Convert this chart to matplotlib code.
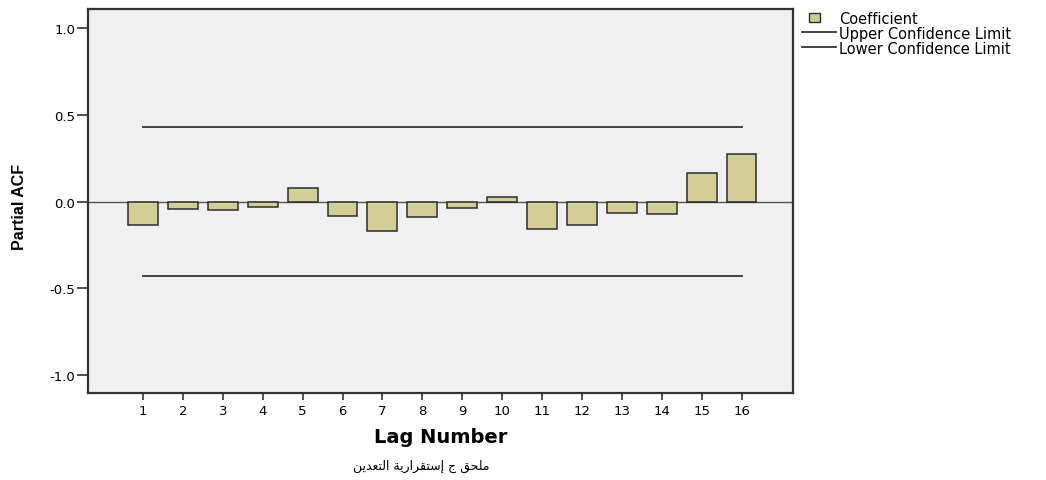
import numpy as np
import matplotlib
matplotlib.use("Agg")
import matplotlib.pyplot as plt
from matplotlib.patches import Patch, Rectangle
from matplotlib.lines import Line2D
from matplotlib.legend_handler import HandlerPatch

# PACF values
lags = [1, 2, 3, 4, 5, 6, 7, 8, 9, 10, 11, 12, 13, 14, 15, 16]
coef = [-0.133, -0.046, -0.048, -0.029, 0.081, -0.081, -0.168, -0.092,
        -0.037, 0.025, -0.156, -0.137, -0.064, -0.072, 0.164, 0.273]
upper_conf = [0.428] * 16
lower_conf = [-0.428] * 16
yticks = [-1.0, -0.5, 0.0, 0.5, 1.0]
legend_labels = ["Coefficient", "Upper Confidence Limit", "Lower Confidence Limit"]

# caption (Arabic, pre-shaped presentation forms, reversed for LTR drawing)
caption_logical = ("\ufee3\ufee0\ufea4\ufed6 \ufe9d "
                   "\ufe87\ufeb3\ufe98\ufed8\ufeae\ufe8d\ufead\ufef3\ufe94 "
                   "\ufe8d\ufedf\ufe98\ufecc\ufeaa\ufef3\ufee6")
caption = caption_logical[::-1]

plt.rcParams['font.family'] = ['DejaVu Sans']

fig = plt.figure(figsize=(10.46, 4.81), dpi=100)
ax = fig.add_axes([0.0841, 0.181, 0.674, 0.798])
ax.set_facecolor("#f0f0f0")

bar_col = "#d3ce97"
edge = "#2b2b2b"
ax.bar(lags, coef, width=0.75, color=bar_col, edgecolor=edge, linewidth=1.1, zorder=3)
ax.axhline(0, color="#555555", linewidth=1.0, zorder=2)
ax.plot(lags, upper_conf, color="#333333", linewidth=1.3, zorder=4)
ax.plot(lags, lower_conf, color="#333333", linewidth=1.3, zorder=4)

ax.set_xlim(-0.38, 17.29)
ax.set_ylim(-1.106, 1.112)
ax.set_xticks(lags)
ax.set_xticklabels([str(l) for l in lags])
ax.set_yticks(yticks)
ax.set_yticklabels(["%.1f" % v for v in yticks])
ax.tick_params(direction="out", width=1.2, color="#333333", labelsize=9.5)
ax.tick_params(axis="y", length=8, pad=1)
ax.tick_params(axis="x", length=5, pad=3)
for s in ax.spines.values():
    s.set_color("#333333")
    s.set_linewidth(1.6)

ax.set_xlabel("Lag Number", fontsize=14, fontweight="bold", labelpad=7)
fig.text(0.019, 0.57, "Partial ACF", rotation=90, fontsize=11.5,
         fontweight="bold", ha="center", va="center",
         family=['Liberation Sans Narrow', 'Liberation Sans', 'DejaVu Sans'])

fig.text(0.403, 0.031, caption, fontsize=9, ha="center", va="center",
         family=['DejaVu Sans'])


def small_box(legend, orig_handle, xdescent, ydescent, width, height, fontsize):
    w, h = 8.0, 6.5
    return Rectangle((-xdescent + width * 0.37 - w / 2, -ydescent + (height - h) / 2),
                     w, h)


handles = [Patch(facecolor=bar_col, edgecolor=edge, linewidth=1.0),
           Line2D([0], [0], color="#333333", linewidth=1.3),
           Line2D([0], [0], color="#333333", linewidth=1.3)]
fig.legend(handles, legend_labels, loc="upper left",
           bbox_to_anchor=(0.764, 0.982), frameon=False, fontsize=10.5,
           handlelength=2.3, handleheight=0.7, handletextpad=0.25,
           labelspacing=0.0, borderaxespad=0.0, borderpad=0.2,
           handler_map={Patch: HandlerPatch(patch_func=small_box)})

fig.savefig("out.png", dpi=100)
